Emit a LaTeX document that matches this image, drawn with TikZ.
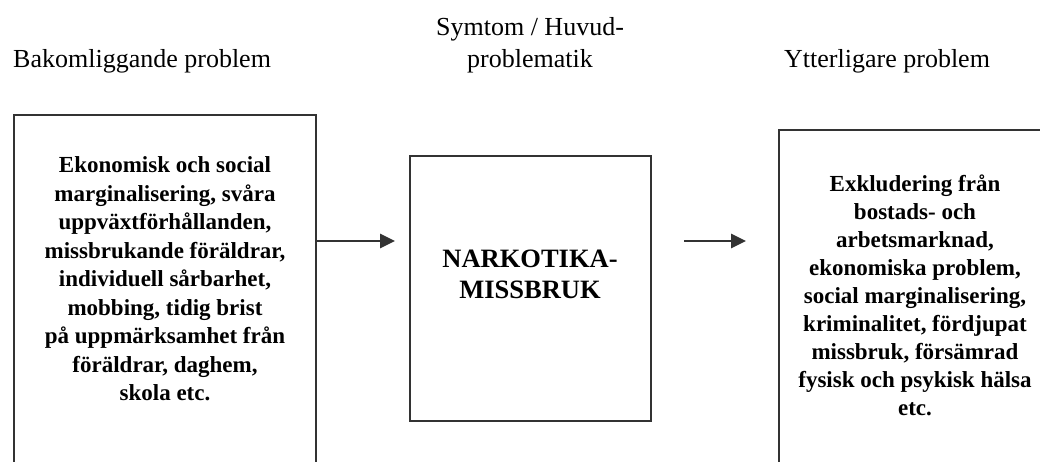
\documentclass[tikz,border=0pt]{standalone}
\usepackage{fontspec}
\setmainfont{Liberation Serif}
\usetikzlibrary{arrows.meta}
\tikzset{
  frame/.style={draw=black!80, line width=2.2pt, inner sep=0pt},
  head/.style={font=\fontsize{26}{32}\selectfont, inner sep=0pt},
  boxtext/.style={font=\bfseries\fontsize{23}{28.5}\selectfont, align=center, inner sep=0pt},
  midtext/.style={font=\bfseries\fontsize{26.5}{31}\selectfont, align=center, inner sep=0pt},
  conn/.style={draw=black!80, line width=2.6pt, -{Triangle[length=15pt,width=14pt]}}
}
\begin{document}
\begin{tikzpicture}[x=1pt,y=-1pt]
\useasboundingbox (0,0) rectangle (1040,462);
\clip (0,0) rectangle (1040,462);
% headers
\node[head, anchor=base west] (h1) at (13,68) {Bakomliggande problem};
\node[head, anchor=center, align=center] (h2) at (530,45) {Symtom / Huvud-\\problematik};
\node[head, anchor=base west] (h3) at (784,68) {Ytterligare problem};
% boxes
\node[frame, anchor=north west, minimum width=302pt, minimum height=420pt] (lbox) at (13,114) {};
\node[frame, anchor=north west, minimum width=241pt, minimum height=265pt] (mbox) at (409,155) {};
\node[frame, anchor=north west, minimum width=300pt, minimum height=400pt] (rbox) at (778,129) {};
% texts
\node[boxtext, anchor=center] (ltext) at (165,279) {Ekonomisk och social\\marginalisering, svåra\\uppväxtförhållanden,\\missbrukande föräldrar,\\individuell sårbarhet,\\mobbing, tidig brist\\på uppmärksamhet från\\föräldrar, daghem,\\skola etc.};
\node[midtext, anchor=center] (mtext) at (530,274) {NARKOTIKA-\\MISSBRUK};
\node[boxtext, anchor=center, font=\bfseries\fontsize{23}{28}\selectfont] (rtext) at (915,295) {Exkludering från\\bostads- och\\arbetsmarknad,\\ekonomiska problem,\\social marginalisering,\\kriminalitet, fördjupat\\missbruk, försämrad\\fysisk och psykisk hälsa\\etc.};
% arrows
\coordinate (lev) at (0,241);
\draw[conn, shorten >=14pt] (lbox.east |- lev) -- (mbox.west |- lev);
\draw[conn, shorten <=32pt, shorten >=32pt] (mbox.east |- lev) -- (rbox.west |- lev);
\end{tikzpicture}
\end{document}
